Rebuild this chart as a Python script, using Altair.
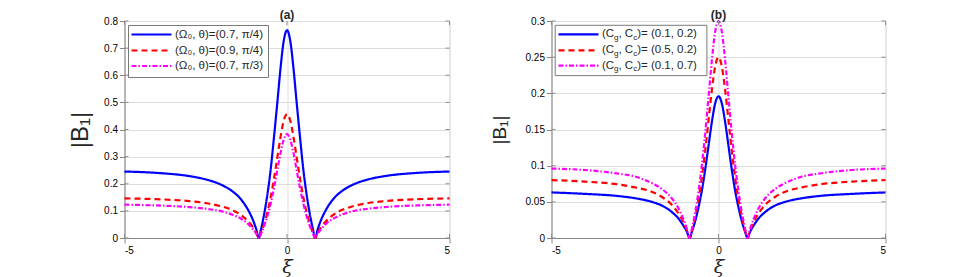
import altair as alt
import pandas as pd

# ---- data ----
xi = [-5, -4, -3, -2.5, -2, -1.7, -1.4, -1.2, -1.05, -0.95, -0.866, -0.8, -0.7, -0.6, -0.5, -0.4, -0.3, -0.2, -0.1,
      0, 0.1, 0.2, 0.3, 0.4, 0.5, 0.6, 0.7, 0.8, 0.866, 0.95, 1.05, 1.2, 1.4, 1.7, 2, 2.5, 3, 4, 5]

a_blue = [0.245, 0.240, 0.228, 0.216, 0.195, 0.174, 0.140, 0.104, 0.067, 0.034, 0, 0.032, 0.090, 0.163, 0.255, 0.372,
          0.496, 0.625, 0.727, 0.766, 0.727, 0.625, 0.496, 0.372, 0.255, 0.163, 0.090, 0.032, 0, 0.034, 0.067, 0.104,
          0.140, 0.174, 0.195, 0.216, 0.228, 0.240, 0.245]
a_red = [0.146, 0.143, 0.136, 0.129, 0.116, 0.104, 0.083, 0.062, 0.040, 0.020, 0, 0.019, 0.053, 0.097, 0.152, 0.219,
         0.295, 0.372, 0.433, 0.456, 0.433, 0.372, 0.295, 0.219, 0.152, 0.097, 0.053, 0.019, 0, 0.020, 0.040, 0.062,
         0.083, 0.104, 0.116, 0.129, 0.136, 0.143, 0.146]
a_mag = [0.123, 0.120, 0.114, 0.108, 0.098, 0.087, 0.070, 0.052, 0.033, 0.017, 0, 0.016, 0.045, 0.082, 0.128, 0.184,
         0.248, 0.313, 0.363, 0.383, 0.363, 0.313, 0.248, 0.184, 0.128, 0.082, 0.045, 0.016, 0, 0.017, 0.033, 0.052,
         0.070, 0.087, 0.098, 0.108, 0.114, 0.120, 0.123]

b_blue = [0.063, 0.061, 0.058, 0.055, 0.050, 0.045, 0.036, 0.027, 0.017, 0.009, 0, 0.008, 0.023, 0.042, 0.065, 0.094,
          0.127, 0.160, 0.186, 0.196, 0.186, 0.160, 0.127, 0.094, 0.065, 0.042, 0.023, 0.008, 0, 0.009, 0.017, 0.027,
          0.036, 0.045, 0.050, 0.055, 0.058, 0.061, 0.063]
b_red = [0.080, 0.078, 0.074, 0.070, 0.064, 0.057, 0.046, 0.034, 0.022, 0.011, 0, 0.010, 0.029, 0.053, 0.083, 0.120,
         0.162, 0.204, 0.237, 0.250, 0.237, 0.204, 0.162, 0.120, 0.083, 0.053, 0.029, 0.010, 0, 0.011, 0.022, 0.034,
         0.046, 0.057, 0.064, 0.070, 0.074, 0.078, 0.080]
b_mag = [0.096, 0.094, 0.089, 0.085, 0.076, 0.068, 0.055, 0.041, 0.026, 0.013, 0, 0.012, 0.035, 0.064, 0.100, 0.144,
         0.194, 0.245, 0.285, 0.300, 0.285, 0.245, 0.194, 0.144, 0.100, 0.064, 0.035, 0.012, 0, 0.013, 0.026, 0.041,
         0.055, 0.068, 0.076, 0.085, 0.089, 0.094, 0.096]

x_ticks = [-5, 0, 5]
a_yticks = [0, 0.1, 0.2, 0.3, 0.4, 0.5, 0.6, 0.7, 0.8]
b_yticks = [0, 0.05, 0.1, 0.15, 0.2, 0.25, 0.3]

a_labels = ["(\u03a9\u2080, \u03b8)=(0.7, \u03c0/4)", "(\u03a9\u2080, \u03b8)=(0.9, \u03c0/4)",
            "(\u03a9\u2080, \u03b8)=(0.7, \u03c0/3)"]
b_values = ["(0.1, 0.2)", "(0.5, 0.2)", "(0.1, 0.7)"]

SERIES = ["s1", "s2", "s3"]
COLORS = ["#0000ff", "#ff0000", "#ff00ff"]
DASHES = [[1, 0], [6, 4], [5, 2, 1.5, 2]]
FRAME = "#8c8c8c"
TXT = "#262626"
FONT = "Liberation Sans"


def one():
    return alt.Data(values=[{"k": 0}])


def panel(vals, yticks, ydom, W, H, title, ytsize, ytpad, legend_layers):
    df = pd.DataFrame({
        "xi": xi * 3,
        "val": vals[0] + vals[1] + vals[2],
        "s": ["s1"] * len(xi) + ["s2"] * len(xi) + ["s3"] * len(xi),
    })
    xsc = alt.Scale(domain=[-5, 5], nice=False, zero=False)
    ysc = alt.Scale(domain=ydom, nice=False, zero=False)
    xax = alt.Axis(
        values=x_ticks, title="\u03be", titleFont="DejaVu Serif", titleFontStyle="italic",
        titleFontSize=19, titleFontWeight="normal", titleColor=TXT, titlePadding=2,
        labelExpr="datum.value < 0 ? '-' + format(-datum.value, '~g') : format(datum.value, '~g')")
    yax = alt.Axis(
        values=yticks, format=".2~f", title="|B\u2081|", titleFont=FONT, titleFontSize=ytsize,
        titleFontWeight="normal", titleColor=TXT, titlePadding=ytpad)
    lines = alt.Chart(df).mark_line(interpolate="monotone", strokeWidth=2.2).encode(
        x=alt.X("xi:Q", scale=xsc, axis=xax, title="\u03be"),
        y=alt.Y("val:Q", scale=ysc, axis=yax, title="|B\u2081|"),
        color=alt.Color("s:N", scale=alt.Scale(domain=SERIES, range=COLORS), legend=None),
        strokeDash=alt.StrokeDash("s:N", scale=alt.Scale(domain=SERIES, range=DASHES), legend=None),
    )
    xt = pd.DataFrame({"t": x_ticks})
    yt = pd.DataFrame({"t": yticks})
    tk = dict(color=FRAME, strokeWidth=1)
    X = lambda: alt.X("t:Q", scale=xsc, axis=xax, title="\u03be")
    Y = lambda: alt.Y("t:Q", scale=ysc, axis=yax, title="|B\u2081|")
    xb = alt.Chart(xt).mark_rule(**tk).encode(x=X(), y=alt.value(H), y2=alt.value(H - 4))
    xtop = alt.Chart(xt).mark_rule(**tk).encode(x=X(), y=alt.value(0), y2=alt.value(4))
    yl = alt.Chart(yt).mark_rule(**tk).encode(y=Y(), x=alt.value(0), x2=alt.value(4))
    yr = alt.Chart(yt).mark_rule(**tk).encode(y=Y(), x=alt.value(W), x2=alt.value(W - 4))
    return alt.layer(lines, xb, xtop, yl, yr, *legend_layers).properties(
        width=W, height=H,
        title=alt.TitleParams(title, fontSize=12, fontWeight="bold", font=FONT, color=TXT, offset=-5.5),
    )


def legend_box(x1, x2, y1, y2):
    return alt.Chart(one()).mark_rect(fill="white", stroke="#7a7a7a", strokeWidth=1).encode(
        x=alt.value(x1), x2=alt.value(x2), y=alt.value(y1), y2=alt.value(y2))


def legend_line(x1, x2, y, i):
    return alt.Chart(one()).mark_rule(color=COLORS[i], strokeWidth=2.2, strokeDash=DASHES[i]).encode(
        x=alt.value(x1), x2=alt.value(x2), y=alt.value(y))


def legend_text(x, y, txt, size=11.5, dy=0):
    return alt.Chart(one()).mark_text(align="left", baseline="middle", font=FONT, fontSize=size, color=TXT,
                                      dy=dy).encode(x=alt.value(x), y=alt.value(y), text=alt.value(txt))


LFS = 11.5
SUB = 8
ys_a = [13.5, 29.5, 45]
leg_a = [legend_box(4, 144, 4.5, 56.5)]
for i in range(3):
    leg_a.append(legend_line(7, 47, ys_a[i], i))
    leg_a.append(legend_text(50.5, ys_a[i], a_labels[i], LFS))

ys_b = [13.3, 29.3, 44.6]
leg_b = [legend_box(3.7, 155.4, 4.3, 54.6)]
for i in range(3):
    y = ys_b[i]
    x0 = 50.4
    leg_b.append(legend_line(7, 47, y, i))
    leg_b.append(legend_text(x0, y, "(C", LFS))
    leg_b.append(legend_text(x0 + 1.055 * LFS, y, "g", SUB, dy=3.5))
    leg_b.append(legend_text(x0 + 1.055 * LFS + 0.556 * SUB, y, ", C", LFS))
    leg_b.append(legend_text(x0 + 1.055 * LFS + 0.556 * SUB + 1.278 * LFS, y, "c", SUB, dy=3.5))
    leg_b.append(legend_text(x0 + 1.055 * LFS + 0.556 * SUB + 1.278 * LFS + 0.5 * SUB, y, ")= " + b_values[i], LFS))

pa = panel([a_blue, a_red, a_mag], a_yticks, [0, 0.8], 325, 217, "(a)", 24, 11.5, leg_a)
pb = panel([b_blue, b_red, b_mag], b_yticks, [0, 0.3], 334, 217, "(b)", 19, 16, leg_b)

chart = alt.hconcat(pa, pb, spacing=35).properties(
    padding={"left": 59.5, "top": 0, "right": 5, "bottom": 0}
).configure_view(stroke=FRAME, strokeWidth=1.2).configure_axis(
    domain=False, ticks=False, grid=False, labelFont=FONT, labelFontSize=12, labelColor=TXT, labelPadding=6,
).configure(background="white")

chart.save("out.html", embed_options={"renderer": "svg", "actions": False})
